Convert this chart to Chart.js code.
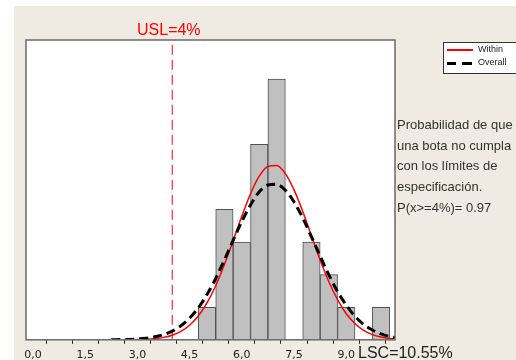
<!DOCTYPE html>
<html>
<head>
<meta charset="utf-8">
<script src="https://cdn.jsdelivr.net/npm/chart.js@4.4.1/dist/chart.umd.min.js"></script>
<style>
  body { margin: 0; background: #fff; width: 516px; height: 360px; overflow: hidden; position: relative; font-family: "Liberation Sans", Arial, sans-serif; }
  #bg { position: absolute; left: 14px; top: 6px; width: 502px; height: 354px; background: #efebe2; }
  #wrap { position: absolute; left: 0; top: 0; width: 516px; height: 367px; }
  .lbl { position: absolute; white-space: nowrap; }
  #usl { left: 137px; top: 21px; font-size: 16px; color: #ff0000; }
  #lsc { left: 358px; top: 344px; font-size: 16px; color: #222; }
  #note { left: 397px; top: 115px; font-size: 13px; line-height: 20.7px; color: #333; }
  #legend { position: absolute; left: 443px; top: 42px; width: 80px; height: 30px; background: #fff; border: 1px solid #333; font-size: 9px; color: #222; }
  #legend .row { position: absolute; left: 34px; }
  .sw { position: absolute; height: 0; }
</style>
</head>
<body>
<div id="bg"></div>
<div id="wrap"><canvas id="c" width="516" height="367"></canvas></div>
<div class="lbl" id="usl">USL=4%</div>
<div class="lbl" id="lsc">LSC=10.55%</div>
<div class="lbl" id="note">Probabilidad de que<br>una bota no cumpla<br>con los límites de<br>especificación.<br>P(x&gt;=4%)= 0.97</div>
<div id="legend">
  <div class="sw" style="left:3px;top:6px;width:26px;border-top:2px solid #ff0000;"></div>
  <div class="row" style="top:1px;">Within</div>
  <div class="sw" style="left:3px;top:19px;width:9px;border-top:3px solid #000;"></div>
  <div class="sw" style="left:18px;top:19px;width:10px;border-top:3px solid #000;"></div>
  <div class="row" style="top:14px;">Overall</div>
</div>
<script>
// histogram: bin centres and counts
const binCenters = [5.0, 5.5, 6.0, 6.5, 7.0, 8.0, 8.5, 9.0, 10.0];
const binCounts  = [1, 4, 3, 6, 8, 3, 2, 1, 1];

// fitted curves
const withinX = [3.0, 3.25, 3.5, 3.75, 4.0, 4.25, 4.5, 4.75, 5.0, 5.25, 5.5, 5.75, 6.0, 6.25, 6.5, 6.75, 7.0, 7.25, 7.5, 7.75, 8.0, 8.25, 8.5, 8.75, 9.0, 9.25, 9.5, 9.75, 10.0, 10.25, 10.4];
const withinY = [0.008, 0.017, 0.036, 0.074, 0.142, 0.259, 0.447, 0.73, 1.13, 1.66, 2.31, 3.04, 3.79, 4.48, 5.02, 5.32, 5.35, 5.10, 4.60, 3.94, 3.19, 2.45, 1.78, 1.23, 0.80, 0.50, 0.29, 0.16, 0.085, 0.042, 0.027];
const overallX = [2.25, 2.5, 2.75, 3.0, 3.25, 3.5, 3.75, 4.0, 4.25, 4.5, 4.75, 5.0, 5.25, 5.5, 5.75, 6.0, 6.25, 6.5, 6.75, 7.0, 7.25, 7.5, 7.75, 8.0, 8.25, 8.5, 8.75, 9.0, 9.25, 9.5, 9.75, 10.0, 10.25, 10.4];
const overallY = [0.003, 0.006, 0.013, 0.026, 0.05, 0.091, 0.16, 0.268, 0.432, 0.665, 0.98, 1.39, 1.88, 2.45, 3.05, 3.63, 4.14, 4.54, 4.75, 4.77, 4.59, 4.23, 3.74, 3.16, 2.57, 1.99, 1.48, 1.06, 0.72, 0.47, 0.30, 0.18, 0.10, 0.072];

const uslValue = 4;
const xMin = -0.2, xMax = 10.4, yMax = 9.2;
const xTicks = [0, 0.75, 1.5, 2.25, 3.0, 3.75, 4.5, 5.25, 6.0, 6.75, 7.5, 8.25, 9.0, 9.75];
const xTickLabels = ['0,0', '', '1,5', '', '3,0', '', '4,5', '', '6,0', '', '7,5', '', '9,0', ''];

const pts = (xs, ys) => xs.map((x, i) => ({ x: x, y: ys[i] }));

// white plot area + frame
const frame = {
  id: 'frame',
  beforeDatasetsDraw(chart) {
    const a = chart.chartArea, ctx = chart.ctx;
    ctx.save();
    ctx.fillStyle = '#fff';
    ctx.fillRect(a.left, a.top, a.right - a.left, a.bottom - a.top);
    ctx.restore();
  },
  afterDatasetsDraw(chart) {
    const a = chart.chartArea, ctx = chart.ctx;
    ctx.save();
    ctx.strokeStyle = '#6a6a6a';
    ctx.lineWidth = 1.5;
    ctx.strokeRect(a.left, a.top, a.right - a.left, a.bottom - a.top);
    ctx.restore();
  }
};

new Chart(document.getElementById('c'), {
  type: 'bar',
  data: {
    datasets: [
      {
        type: 'line', label: 'Within', data: pts(withinX, withinY),
        borderColor: '#ff0000', borderWidth: 1.5, pointRadius: 0,
        cubicInterpolationMode: 'monotone', order: 1
      },
      {
        type: 'line', label: 'Overall', data: pts(overallX, overallY),
        borderColor: '#000', borderWidth: 3, borderDash: [9, 5], pointRadius: 0,
        cubicInterpolationMode: 'monotone', order: 0
      },
      {
        type: 'line', label: 'USL', data: [{ x: uslValue, y: 0 }, { x: uslValue, y: yMax }],
        borderColor: '#ff0000', borderWidth: 1, borderDash: [10, 5], pointRadius: 0, order: 2
      },
      {
        type: 'bar', label: 'Counts', data: pts(binCenters, binCounts),
        backgroundColor: '#c0c0c0', borderColor: '#505050', borderWidth: 1,
        barPercentage: 1, categoryPercentage: 1, order: 3
      }
    ]
  },
  options: {
    responsive: false,
    animation: false,
    layout: { padding: { left: 26, top: 40, right: 121, bottom: 0 } },
    plugins: { legend: { display: false }, tooltip: { enabled: false } },
    scales: {
      x: {
        type: 'linear', min: xMin, max: xMax, offset: false,
        afterBuildTicks(scale) { scale.ticks = xTicks.map(v => ({ value: v })); },
        grid: { drawOnChartArea: false, drawTicks: true, tickLength: 4, color: '#222' },
        border: { display: false },
        ticks: {
          autoSkip: false, maxRotation: 0, padding: 5, color: '#222',
          font: { family: 'DejaVu Sans', size: 11 },
          callback: (v, i) => xTickLabels[i]
        }
      },
      y: { display: false, min: 0, max: yMax }
    }
  },
  plugins: [frame]
});
</script>
</body>
</html>
